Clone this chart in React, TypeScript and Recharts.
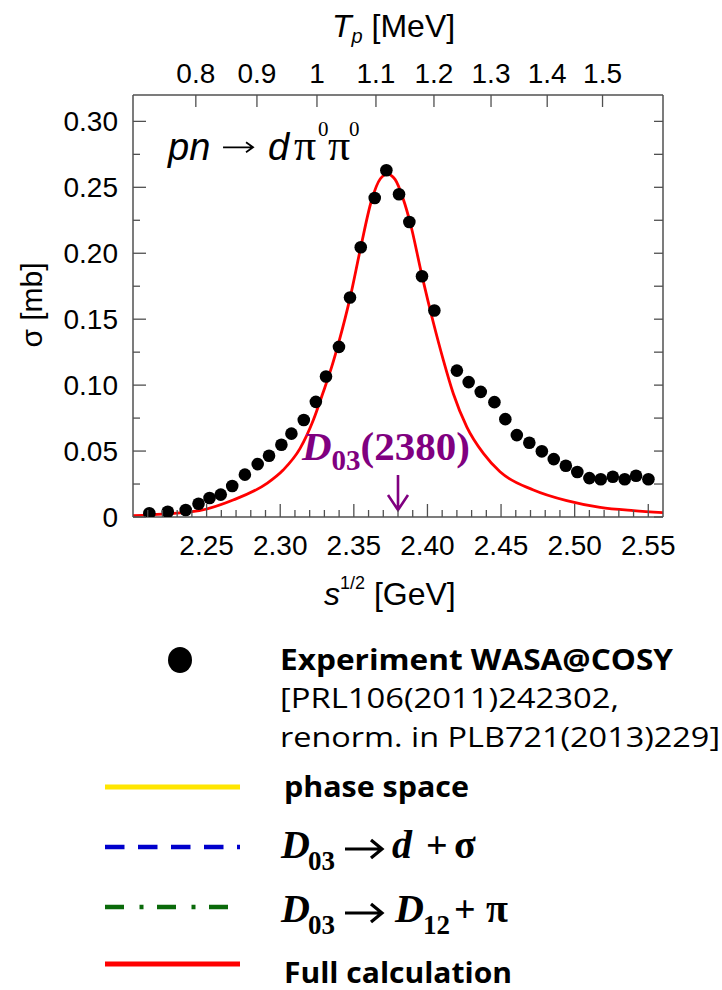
import { ComposedChart, Line, Scatter, XAxis, YAxis, ReferenceLine, ReferenceDot } from 'recharts';

// WASA@COSY pn -> d pi0 pi0 total cross section (sqrt(s) in GeV, sigma in mb)
const expSqrtS = [
  2.2111, 2.2236, 2.2358, 2.2445, 2.2520, 2.2596, 2.2674, 2.2760, 2.2847, 2.2924,
  2.3008, 2.3076, 2.3160, 2.3242, 2.3311, 2.3399, 2.3474, 2.3547, 2.3642, 2.3721,
  2.3807, 2.3877, 2.3963, 2.4047, 2.4200, 2.4280, 2.4362, 2.4455, 2.4529, 2.4607,
  2.4692, 2.4777, 2.4858, 2.4940, 2.5018, 2.5100, 2.5177, 2.5259, 2.5340, 2.5417,
  2.5501,
];
const expSigma = [
  0.0028, 0.0040, 0.0053, 0.0100, 0.0144, 0.0170, 0.0235, 0.0321, 0.0401, 0.0465,
  0.0548, 0.0632, 0.0735, 0.0873, 0.1065, 0.1290, 0.1664, 0.2045, 0.2419, 0.2629,
  0.2447, 0.2237, 0.1826, 0.1566, 0.1110, 0.1023, 0.0949, 0.0871, 0.0742, 0.0621,
  0.0563, 0.0498, 0.0439, 0.0389, 0.0341, 0.0295, 0.0286, 0.0305, 0.0286, 0.0313,
  0.0286,
];

// full calculation curve
const calcSqrtS = [
  2.200, 2.220, 2.245, 2.268, 2.291, 2.302, 2.3135, 2.3225, 2.329, 2.335,
  2.3399, 2.3474, 2.3547, 2.362, 2.368, 2.3728, 2.378, 2.3836, 2.3882, 2.3961,
  2.404, 2.4108, 2.4176, 2.4267, 2.438, 2.4493, 2.472, 2.4946, 2.5173, 2.540,
  2.560,
];
const calcSigma = [
  0.0010, 0.0022, 0.0048, 0.0129, 0.0255, 0.0356, 0.0520, 0.0735, 0.0940, 0.1140,
  0.1330, 0.1660, 0.2045, 0.2400, 0.2565, 0.2600, 0.2560, 0.2410, 0.2235, 0.1840,
  0.1475, 0.1190, 0.0935, 0.0684, 0.0482, 0.0343, 0.0205, 0.0124, 0.0073, 0.0048,
  0.0033,
];

const sqrtSTicks = [
  2.21, 2.22, 2.23, 2.24, 2.25, 2.26, 2.27, 2.28, 2.29, 2.30, 2.31, 2.32,
  2.33, 2.34, 2.35, 2.36, 2.37, 2.38, 2.39, 2.40, 2.41, 2.42, 2.43, 2.44,
  2.45, 2.46, 2.47, 2.48, 2.49, 2.50, 2.51, 2.52, 2.53, 2.54, 2.55,
];
const sigmaTicks = [0, 0.025, 0.05, 0.075, 0.1, 0.125, 0.15, 0.175, 0.2, 0.225, 0.25, 0.275, 0.3];
const sigmaLabels = ['0', '0.05', '0.10', '0.15', '0.20', '0.25', '0.30'];
const tpTicks = [0.8, 0.9, 1.0, 1.1, 1.2, 1.3, 1.4, 1.5];
const tpLabels = ['0.8', '0.9', '1', '1.1', '1.2', '1.3', '1.4', '1.5'];

// beam kinetic energy -> cm energy for p + n(at rest)
const M_P = 0.93827;
const M_N = 0.93957;
const tpToSqrtS = (tp: number) => Math.sqrt((M_P + M_N) ** 2 + 2 * M_N * tp);
const tpTickPositions = tpTicks.map(tpToSqrtS);

const expData = expSqrtS.map((s, i) => ({ s, sigma: expSigma[i] }));
const calcData = calcSqrtS.map((s, i) => ({ s, sigma: calcSigma[i] }));

const X_DOMAIN: [number, number] = [2.2, 2.56];
const Y_DOMAIN: [number, number] = [0, 0.32];

const AXIS = '#505050';
const SANS = '"Liberation Sans", Arial, sans-serif';
const SERIF = '"Liberation Serif", "Times New Roman", serif';
const PURPLE = '#800080';

function BottomTick({ x, y, payload }: any) {
  const major = Math.round(payload.value * 100) % 5 === 0;
  return (
    <g>
      <line x1={x} x2={x} y1={y} y2={y - (major ? 13 : 7)} stroke={AXIS} strokeWidth={1.3} />
      {major && (
        <text x={x} y={y + 38} textAnchor="middle" fontSize={28} fill="#000" fontFamily={SANS}>
          {payload.value.toFixed(2)}
        </text>
      )}
    </g>
  );
}

function TopTick({ x, y, payload }: any) {
  const i = tpTickPositions.findIndex((v) => Math.abs(v - payload.value) < 1e-6);
  return (
    <g>
      <line x1={x} x2={x} y1={y} y2={y + 12} stroke={AXIS} strokeWidth={1.3} />
      <text x={x} y={y - 12} textAnchor="middle" fontSize={28} fill="#000" fontFamily={SANS}>
        {i >= 0 ? tpLabels[i] : ''}
      </text>
    </g>
  );
}

function LeftTick({ x, y, payload }: any) {
  const idx = sigmaTicks.findIndex((v) => Math.abs(v - payload.value) < 1e-9);
  const major = idx % 2 === 0;
  return (
    <g>
      <line x1={x} x2={x + (major ? 13 : 7)} y1={y} y2={y} stroke={AXIS} strokeWidth={1.3} />
      {major && (
        <text x={x - 15} y={y + 10} textAnchor="end" fontSize={28} fill="#000" fontFamily={SANS}>
          {sigmaLabels[idx / 2]}
        </text>
      )}
    </g>
  );
}

function RightTick({ x, y }: any) {
  return <line x1={x} x2={x - 9} y1={y} y2={y} stroke={AXIS} strokeWidth={1.3} />;
}

const reactionLabel = ({ cx, cy }: any) => (
  <g fill="#000">
    <text x={cx} y={cy} fontSize={38} fontStyle="italic" fontFamily={SANS}>pn</text>
    <path
      d={`M${cx + 55},${cy - 13} L${cx + 85},${cy - 13} M${cx + 78},${cy - 18} L${cx + 85},${cy - 13} L${cx + 78},${cy - 8}`}
      stroke="#000"
      strokeWidth={1.8}
      fill="none"
    />
    <text x={cx + 100} y={cy} fontSize={38} fontStyle="italic" fontFamily={SANS}>d</text>
    <text x={cx + 126} y={cy} fontSize={44} fontFamily={SERIF}>π</text>
    <text x={cx + 150} y={cy - 24} fontSize={21} fontFamily={SERIF}>0</text>
    <text x={cx + 160} y={cy} fontSize={44} fontFamily={SERIF}>π</text>
    <text x={cx + 181} y={cy - 24} fontSize={21} fontFamily={SERIF}>0</text>
  </g>
);

const dibaryonLabel = ({ cx, cy }: any) => (
  <text x={cx} y={cy} fill={PURPLE} fontFamily={SERIF} fontWeight="bold" fontSize={41}>
    <tspan fontStyle="italic">D</tspan>
    <tspan fontSize={29} dy={10}>03</tspan>
    <tspan dy={-10}>(2380)</tspan>
  </text>
);

const downArrow = ({ x1, y1, x2, y2 }: any) => (
  <path
    d={`M${x1},${y1} L${x2},${y2} M${x2 - 10},${y2 - 15} L${x2},${y2} L${x2 + 10},${y2 - 15}`}
    stroke={PURPLE}
    strokeWidth={2.6}
    fill="none"
  />
);

const dot = ({ cx, cy }: any) => <circle cx={cx} cy={cy} r={6.3} fill="#000" />;

// bold "→" as drawn in the legend formulas
const LegendArrow = ({ x, y }: { x: number; y: number }) => (
  <path
    d={`M${x},${y} L${x + 35},${y} M${x + 26},${y - 9} L${x + 37},${y} L${x + 26},${y + 9}`}
    stroke="#000"
    strokeWidth={3.2}
    fill="none"
  />
);

function Overlay() {
  const bold = { fontFamily: '"Open Sans", sans-serif', fontWeight: 700, fontSize: 28 };
  const reg = { fontFamily: '"Open Sans", sans-serif', fontWeight: 400, fontSize: 28 };
  return (
    <svg width={722} height={990} style={{ position: 'absolute', left: 0, top: 0 }}>
      {/* axis titles */}
      <text y={37} fontFamily={SANS} fontSize={32} fill="#000">
        <tspan x={332} fontStyle="italic">T</tspan>
        <tspan fontSize={20} dy={6} fontStyle="italic">p</tspan>
        <tspan dy={-6}> [MeV]</tspan>
      </text>
      <text y={605} fontFamily={SANS} fontSize={32} fill="#000">
        <tspan x={324} fontStyle="italic">s</tspan>
        <tspan fontSize={18} dy={-16}>1/2</tspan>
        <tspan dy={16}> [GeV]</tspan>
      </text>
      <text x={31} y={305} transform="rotate(-90 31 305)" textAnchor="middle" dominantBaseline="central" fontFamily={SANS} fontSize={30} fill="#000">
        σ [mb]
      </text>

      {/* legend */}
      <ellipse cx={180} cy={660} rx={12} ry={13} fill="#000" />
      <text x={280} y={670} {...bold} textLength={393} lengthAdjust="spacingAndGlyphs">Experiment WASA@COSY</text>
      <text x={280} y={708} {...reg} textLength={339} lengthAdjust="spacingAndGlyphs">[PRL106(2011)242302,</text>
      <text x={280} y={747} {...reg} textLength={440} lengthAdjust="spacingAndGlyphs">renorm. in PLB721(2013)229]</text>

      <line x1={105} x2={240} y1={787} y2={787} stroke="#ffe600" strokeWidth={5} />
      <text x={284} y={797} {...bold} textLength={185} lengthAdjust="spacingAndGlyphs">phase space</text>

      <line x1={105} x2={240} y1={847} y2={847} stroke="#0000cc" strokeWidth={4.5} strokeDasharray="19.5 13.5" />
      <g fontFamily={SERIF} fontWeight="bold" fill="#000">
        <text x={281} y={858} fontSize={40} fontStyle="italic">D</text>
        <text x={308} y={870} fontSize={27}>03</text>
        <LegendArrow x={345} y={849} />
        <text x={392} y={858} fontSize={40} fontStyle="italic">d</text>
        <text x={426} y={858} fontSize={38}>+</text>
        <text x={454} y={858} fontSize={40}>σ</text>
      </g>

      <line x1={105} x2={228} y1={907} y2={907} stroke="#0a6a0a" strokeWidth={4.5} strokeDasharray="19 15.5 4 13.5" />
      <g fontFamily={SERIF} fontWeight="bold" fill="#000">
        <text x={281} y={922} fontSize={40} fontStyle="italic">D</text>
        <text x={308} y={934} fontSize={27}>03</text>
        <LegendArrow x={345} y={913} />
        <text x={395} y={922} fontSize={40} fontStyle="italic">D</text>
        <text x={423} y={934} fontSize={27}>12</text>
        <text x={454} y={922} fontSize={38}>+</text>
        <text x={486} y={922} fontSize={40}>π</text>
      </g>

      <line x1={105} x2={240} y1={964} y2={964} stroke="#ff0000" strokeWidth={5} />
      <text x={284} y={983} {...bold} textLength={228} lengthAdjust="spacingAndGlyphs">Full calculation</text>
    </svg>
  );
}

export default function App() {
  return (
    <div style={{ position: 'absolute', left: 0, top: 0, width: 722, height: 990, background: '#fff', fontFamily: SANS }}>
      <div style={{ position: 'absolute', left: 0, top: 0 }}>
        <ComposedChart width={722} height={580} margin={{ top: 55, right: 39, bottom: 13, left: 0 }}>
          <XAxis
            xAxisId="bottom"
            type="number"
            dataKey="s"
            domain={X_DOMAIN}
            ticks={sqrtSTicks}
            interval={0}
            allowDataOverflow
            height={50}
            tickSize={0}
            tickMargin={0}
            tickLine={false}
            axisLine={{ stroke: AXIS, strokeWidth: 1.5 }}
            tick={<BottomTick />}
          />
          <XAxis
            xAxisId="top"
            orientation="top"
            type="number"
            dataKey="s"
            domain={X_DOMAIN}
            ticks={tpTickPositions}
            interval={0}
            allowDataOverflow
            height={40}
            tickSize={0}
            tickMargin={0}
            tickLine={false}
            axisLine={{ stroke: AXIS, strokeWidth: 1.5 }}
            tick={<TopTick />}
          />
          <YAxis
            yAxisId="left"
            type="number"
            domain={Y_DOMAIN}
            ticks={sigmaTicks}
            interval={0}
            allowDataOverflow
            width={133}
            tickSize={0}
            tickMargin={0}
            tickLine={false}
            axisLine={{ stroke: AXIS, strokeWidth: 1.5 }}
            tick={<LeftTick />}
          />
          <YAxis
            yAxisId="right"
            orientation="right"
            type="number"
            domain={Y_DOMAIN}
            ticks={sigmaTicks}
            interval={0}
            allowDataOverflow
            width={20}
            tickSize={0}
            tickMargin={0}
            tickLine={false}
            axisLine={{ stroke: AXIS, strokeWidth: 1.5 }}
            tick={<RightTick />}
          />
          {/* invisible copy bound to the T_p axis so it gets a scale */}
          <Line
            xAxisId="top"
            yAxisId="right"
            data={calcData}
            dataKey="sigma"
            stroke="none"
            dot={false}
            activeDot={false}
            isAnimationActive={false}
          />
          <Line
            xAxisId="bottom"
            yAxisId="left"
            data={calcData}
            dataKey="sigma"
            type="monotone"
            stroke="#ff0000"
            strokeWidth={2.8}
            dot={false}
            activeDot={false}
            isAnimationActive={false}
          />
          <Scatter
            xAxisId="bottom"
            yAxisId="left"
            data={expData}
            dataKey="sigma"
            shape={dot}
            isAnimationActive={false}
          />
          <ReferenceLine
            xAxisId="bottom"
            yAxisId="left"
            segment={[{ x: 2.38, y: 0.0318 }, { x: 2.38, y: 0.0053 }]}
            shape={downArrow}
          />
          <ReferenceDot xAxisId="bottom" yAxisId="left" x={2.3148} y={0.0432} r={0} shape={dibaryonLabel} />
          <ReferenceDot xAxisId="bottom" yAxisId="left" x={2.2238} y={0.2705} r={0} shape={reactionLabel} />
        </ComposedChart>
      </div>
      <Overlay />
    </div>
  );
}
